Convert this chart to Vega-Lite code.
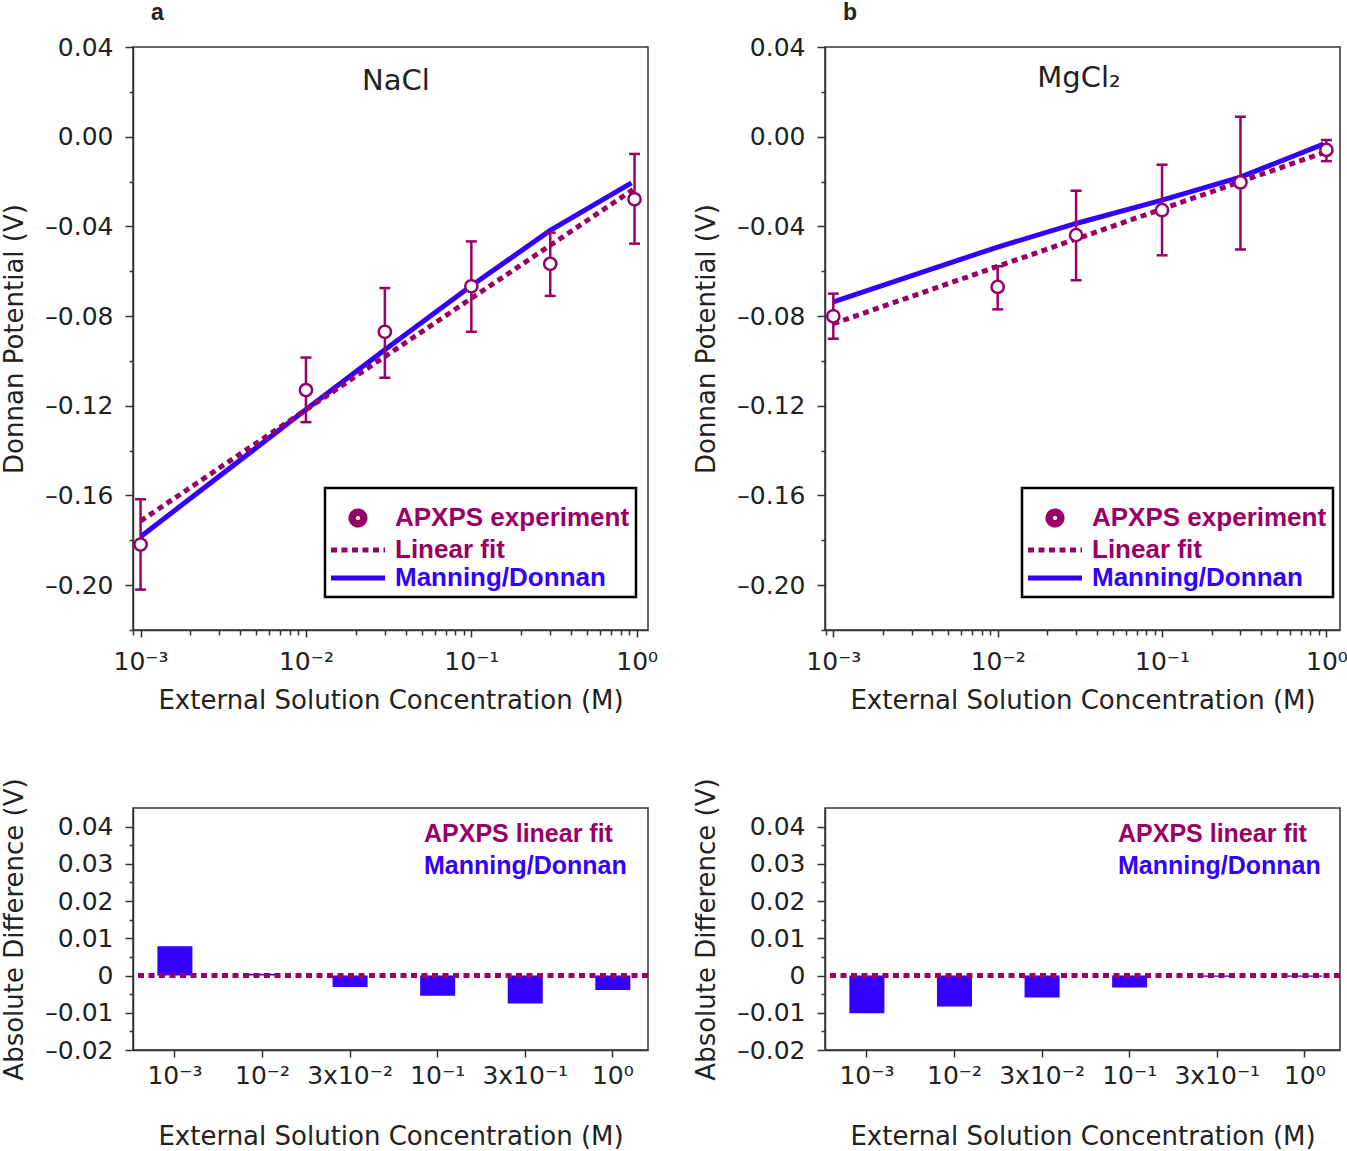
{
  "$schema": "https://vega.github.io/schema/vega-lite/v6.json",
  "background": "white",
  "padding": {"left": 1, "top": 0, "right": 0, "bottom": 0},
  "columns": 2,
  "spacing": {"row": 178, "column": 177},
  "bounds": "flush",
  "resolve": {"scale": {"color": "independent"}, "legend": {"color": "independent"}},
  "datasets": {
    "nacl_exp": [
      {"c": 0.001, "v": -0.1819, "lo": -0.2020, "hi": -0.1617, "series": "APXPS experiment"},
      {"c": 0.01, "v": -0.1130, "lo": -0.1273, "hi": -0.0985, "series": "APXPS experiment"},
      {"c": 0.03, "v": -0.0870, "lo": -0.1075, "hi": -0.0675, "series": "APXPS experiment"},
      {"c": 0.1, "v": -0.0667, "lo": -0.0870, "hi": -0.0467, "series": "APXPS experiment"},
      {"c": 0.3, "v": -0.0567, "lo": -0.0710, "hi": -0.0428, "series": "APXPS experiment"},
      {"c": 0.97, "v": -0.0279, "lo": -0.0477, "hi": -0.0077, "series": "APXPS experiment"}
    ],
    "nacl_fit": [
      {"c": 0.001, "v": -0.1714, "series": "Linear fit"},
      {"c": 0.95, "v": -0.0236, "series": "Linear fit"}
    ],
    "nacl_md": [
      {"c": 0.001, "v": -0.1784, "series": "Manning/Donnan"},
      {"c": 0.01, "v": -0.1217, "series": "Manning/Donnan"},
      {"c": 0.03, "v": -0.0950, "series": "Manning/Donnan"},
      {"c": 0.1, "v": -0.0665, "series": "Manning/Donnan"},
      {"c": 0.3, "v": -0.0418, "series": "Manning/Donnan"},
      {"c": 0.93, "v": -0.0206, "series": "Manning/Donnan"}
    ],
    "mg_exp": [
      {"c": 0.001, "v": -0.0801, "lo": -0.0901, "hi": -0.0700, "series": "APXPS experiment"},
      {"c": 0.01, "v": -0.0670, "lo": -0.0770, "hi": -0.0578, "series": "APXPS experiment"},
      {"c": 0.03, "v": -0.0439, "lo": -0.0640, "hi": -0.0241, "series": "APXPS experiment"},
      {"c": 0.1, "v": -0.0328, "lo": -0.0529, "hi": -0.0125, "series": "APXPS experiment"},
      {"c": 0.3, "v": -0.0204, "lo": -0.0503, "hi": 0.0089, "series": "APXPS experiment"},
      {"c": 1.0, "v": -0.0059, "lo": -0.0109, "hi": -0.0015, "series": "APXPS experiment"}
    ],
    "mg_fit": [
      {"c": 0.001, "v": -0.0834, "series": "Linear fit"},
      {"c": 1.0, "v": -0.0067, "series": "Linear fit"}
    ],
    "mg_md": [
      {"c": 0.001, "v": -0.0737, "series": "Manning/Donnan"},
      {"c": 0.01, "v": -0.0492, "series": "Manning/Donnan"},
      {"c": 0.03, "v": -0.0387, "series": "Manning/Donnan"},
      {"c": 0.1, "v": -0.0283, "series": "Manning/Donnan"},
      {"c": 0.3, "v": -0.0180, "series": "Manning/Donnan"},
      {"c": 0.96, "v": -0.0033, "series": "Manning/Donnan"}
    ],
    "nacl_diff": [
      {"cat": "10\u207b\u00b3", "d": 0.0079, "series": "Manning/Donnan"},
      {"cat": "10\u207b\u00b2", "d": 0.0005, "series": "Manning/Donnan"},
      {"cat": "3x10\u207b\u00b2", "d": -0.0031, "series": "Manning/Donnan"},
      {"cat": "10\u207b\u00b9", "d": -0.0054, "series": "Manning/Donnan"},
      {"cat": "3x10\u207b\u00b9", "d": -0.0075, "series": "Manning/Donnan"},
      {"cat": "10\u2070", "d": -0.0039, "series": "Manning/Donnan"}
    ],
    "mg_diff": [
      {"cat": "10\u207b\u00b3", "d": -0.0101, "series": "Manning/Donnan"},
      {"cat": "10\u207b\u00b2", "d": -0.0083, "series": "Manning/Donnan"},
      {"cat": "3x10\u207b\u00b2", "d": -0.0059, "series": "Manning/Donnan"},
      {"cat": "10\u207b\u00b9", "d": -0.0032, "series": "Manning/Donnan"},
      {"cat": "3x10\u207b\u00b9", "d": -0.0003, "series": "Manning/Donnan"},
      {"cat": "10\u2070", "d": -0.0003, "series": "Manning/Donnan"}
    ]
  },
  "concat": [
    {
      "width": 515,
      "height": 583,
      "title": {"text": "a", "anchor": "start", "frame": "group", "dx": 18, "offset": 10.5, "font": "Liberation Sans", "fontSize": 23, "fontWeight": "bold", "color": "#222222"},
      "resolve": {"axis": {"x": "independent", "y": "independent"}},
      "layer": [
        {
          "data": {"name": "nacl_md"},
          "mark": {"type": "line", "strokeWidth": 5},
          "encoding": {
            "x": {"field": "c", "type": "quantitative", "scale": {"type": "log", "domain": [0.0009, 1.17], "nice": false},
              "axis": {"orient": "bottom", "values": [0.001, 0.01, 0.1, 1], "labelExpr": "datum.value < 0.005 ? '10\u207b\u00b3' : datum.value < 0.05 ? '10\u207b\u00b2' : datum.value < 0.5 ? '10\u207b\u00b9' : '10\u2070'", "tickSize": 7, "labelPadding": 12, "labelFlush": false, "labelOverlap": false, "title": "External Solution Concentration (M)", "titlePadding": 13}},
            "y": {"field": "v", "type": "quantitative", "scale": {"domain": [-0.22, 0.04], "nice": false, "zero": false},
              "axis": {"orient": "left", "values": [0.04, 0, -0.04, -0.08, -0.12, -0.16, -0.2], "labelExpr": "replace(replace(format(datum.value, '.2f'), '\u2212', '\u2013'), '-', '\u2013')", "tickSize": 8, "labelPadding": 12, "labelFlush": false, "labelOverlap": false, "title": "Donnan Potential (V)", "titlePadding": 17}},
            "color": {"field": "series", "type": "nominal",
              "scale": {"domain": ["APXPS experiment", "Linear fit", "Manning/Donnan"], "range": ["#990066", "#990066", "#3300ff"]},
              "legend": {
                "orient": "none", "legendX": 192, "legendY": 441,
                "title": "\u200b", "titleFontSize": 10, "titlePadding": 1,
                "padding": 6, "strokeColor": "black",
                "symbolSize": 400, "symbolStrokeWidth": 5, "symbolType": "M-1.3,0H4.1",
                "labelOffset": 38, "labelFont": "Liberation Sans", "labelFontSize": 26, "labelFontWeight": "bold", "labelColor": "#990066", "labelLimit": 400, "rowPadding": 2,
                "encode": {
                  "legend": {"update": {"strokeWidth": {"value": 2.5}}},
                  "symbols": {"update": {
                    "shape": [{"test": "datum.value === 'APXPS experiment'", "value": "M0.7,0A0.7,0.7 0 1,0 2.1,0A0.7,0.7 0 1,0 0.7,0ZM0.94,0A0.46,0.46 0 1,1 1.86,0A0.46,0.46 0 1,1 0.94,0Z"}, {"value": "M-1.3,0H4.1"}],
                    "strokeDash": [{"test": "datum.value === 'Linear fit'", "value": [6, 4.5]}, {"value": [1, 0]}],
                    "fill": [{"test": "datum.value === 'APXPS experiment'", "value": "#990066"}, {"value": "transparent"}],
                    "stroke": [{"test": "datum.value === 'APXPS experiment'", "value": "transparent"}, {"test": "datum.value === 'Manning/Donnan'", "value": "#3300ff"}, {"value": "#990066"}],
                    "opacity": {"value": 1}
                  }},
                  "labels": {"update": {
                    "fill": [{"test": "datum.value === 'Manning/Donnan'", "value": "#3300ff"}, {"value": "#990066"}]
                  }}
                }
              }}
          }
        },
        {
          "data": {"name": "nacl_fit"},
          "mark": {"type": "line", "strokeWidth": 5, "strokeDash": [6, 4.5]},
          "encoding": {
            "x": {"field": "c", "type": "quantitative", "scale": {"type": "log", "domain": [0.0009, 1.17], "nice": false},
              "axis": {"orient": "bottom", "values": [0.0009, 0.002, 0.003, 0.004, 0.005, 0.006, 0.007, 0.008, 0.009, 0.02, 0.03, 0.04, 0.05, 0.06, 0.07, 0.08, 0.09, 0.2, 0.3, 0.4, 0.5, 0.6, 0.7, 0.8, 0.9], "labels": false, "tickSize": 5, "domain": false, "title": null}},
            "y": {"field": "v", "type": "quantitative",
              "axis": {"orient": "left", "values": [0.02, -0.02, -0.06, -0.1, -0.14, -0.18, -0.22], "labels": false, "tickSize": 4, "domain": false, "title": null}},
            "color": {"field": "series", "type": "nominal", "legend": null}
          }
        },
        {
          "data": {"name": "nacl_exp"},
          "mark": {"type": "rule", "color": "#990066", "strokeWidth": 2.5},
          "encoding": {
            "x": {"field": "c", "type": "quantitative", "axis": null},
            "y": {"field": "lo", "type": "quantitative", "axis": null},
            "y2": {"field": "hi"}
          }
        },
        {
          "data": {"name": "nacl_exp"},
          "mark": {"type": "tick", "orient": "horizontal", "color": "#990066", "thickness": 2.5, "size": 11, "opacity": 1},
          "encoding": {
            "x": {"field": "c", "type": "quantitative", "axis": null},
            "y": {"field": "lo", "type": "quantitative", "axis": null}
          }
        },
        {
          "data": {"name": "nacl_exp"},
          "mark": {"type": "tick", "orient": "horizontal", "color": "#990066", "thickness": 2.5, "size": 11, "opacity": 1},
          "encoding": {
            "x": {"field": "c", "type": "quantitative", "axis": null},
            "y": {"field": "hi", "type": "quantitative", "axis": null}
          }
        },
        {
          "data": {"name": "nacl_exp"},
          "mark": {"type": "point", "shape": "circle", "filled": false, "fill": "white", "strokeWidth": 2.5, "size": 150, "opacity": 1},
          "encoding": {
            "x": {"field": "c", "type": "quantitative", "axis": null},
            "y": {"field": "v", "type": "quantitative", "axis": null},
            "color": {"field": "series", "type": "nominal", "legend": null}
          }
        },
        {
          "data": {"values": [{}]},
          "mark": {"type": "text", "font": "DejaVu Sans", "fontSize": 29, "color": "#222222"},
          "encoding": {
            "x": {"datum": 0.035, "type": "quantitative", "axis": null},
            "y": {"datum": 0.025, "type": "quantitative", "axis": null},
            "text": {"value": "NaCl"}
          }
        }
      ]
    },
    {
      "width": 515,
      "height": 583,
      "title": {"text": "b", "anchor": "start", "frame": "group", "dx": 18, "offset": 10.5, "font": "Liberation Sans", "fontSize": 23, "fontWeight": "bold", "color": "#222222"},
      "resolve": {"axis": {"x": "independent", "y": "independent"}},
      "layer": [
        {
          "data": {"name": "mg_md"},
          "mark": {"type": "line", "strokeWidth": 5},
          "encoding": {
            "x": {"field": "c", "type": "quantitative", "scale": {"type": "log", "domain": [0.00089, 1.21], "nice": false},
              "axis": {"orient": "bottom", "values": [0.001, 0.01, 0.1, 1], "labelExpr": "datum.value < 0.005 ? '10\u207b\u00b3' : datum.value < 0.05 ? '10\u207b\u00b2' : datum.value < 0.5 ? '10\u207b\u00b9' : '10\u2070'", "tickSize": 7, "labelPadding": 12, "labelFlush": false, "labelOverlap": false, "title": "External Solution Concentration (M)", "titlePadding": 13}},
            "y": {"field": "v", "type": "quantitative", "scale": {"domain": [-0.22, 0.04], "nice": false, "zero": false},
              "axis": {"orient": "left", "values": [0.04, 0, -0.04, -0.08, -0.12, -0.16, -0.2], "labelExpr": "replace(replace(format(datum.value, '.2f'), '\u2212', '\u2013'), '-', '\u2013')", "tickSize": 8, "labelPadding": 12, "labelFlush": false, "labelOverlap": false, "title": "Donnan Potential (V)", "titlePadding": 17}},
            "color": {"field": "series", "type": "nominal",
              "scale": {"domain": ["APXPS experiment", "Linear fit", "Manning/Donnan"], "range": ["#990066", "#990066", "#3300ff"]},
              "legend": {
                "orient": "none", "legendX": 197, "legendY": 441,
                "title": "\u200b", "titleFontSize": 10, "titlePadding": 1,
                "padding": 6, "strokeColor": "black",
                "symbolSize": 400, "symbolStrokeWidth": 5, "symbolType": "M-1.3,0H4.1",
                "labelOffset": 38, "labelFont": "Liberation Sans", "labelFontSize": 26, "labelFontWeight": "bold", "labelColor": "#990066", "labelLimit": 400, "rowPadding": 2,
                "encode": {
                  "legend": {"update": {"strokeWidth": {"value": 2.5}}},
                  "symbols": {"update": {
                    "shape": [{"test": "datum.value === 'APXPS experiment'", "value": "M0.7,0A0.7,0.7 0 1,0 2.1,0A0.7,0.7 0 1,0 0.7,0ZM0.94,0A0.46,0.46 0 1,1 1.86,0A0.46,0.46 0 1,1 0.94,0Z"}, {"value": "M-1.3,0H4.1"}],
                    "strokeDash": [{"test": "datum.value === 'Linear fit'", "value": [6, 4.5]}, {"value": [1, 0]}],
                    "fill": [{"test": "datum.value === 'APXPS experiment'", "value": "#990066"}, {"value": "transparent"}],
                    "stroke": [{"test": "datum.value === 'APXPS experiment'", "value": "transparent"}, {"test": "datum.value === 'Manning/Donnan'", "value": "#3300ff"}, {"value": "#990066"}],
                    "opacity": {"value": 1}
                  }},
                  "labels": {"update": {
                    "fill": [{"test": "datum.value === 'Manning/Donnan'", "value": "#3300ff"}, {"value": "#990066"}]
                  }}
                }
              }}
          }
        },
        {
          "data": {"name": "mg_fit"},
          "mark": {"type": "line", "strokeWidth": 5, "strokeDash": [6, 4.5]},
          "encoding": {
            "x": {"field": "c", "type": "quantitative", "scale": {"type": "log", "domain": [0.00089, 1.21], "nice": false},
              "axis": {"orient": "bottom", "values": [0.0009, 0.002, 0.003, 0.004, 0.005, 0.006, 0.007, 0.008, 0.009, 0.02, 0.03, 0.04, 0.05, 0.06, 0.07, 0.08, 0.09, 0.2, 0.3, 0.4, 0.5, 0.6, 0.7, 0.8, 0.9], "labels": false, "tickSize": 5, "domain": false, "title": null}},
            "y": {"field": "v", "type": "quantitative",
              "axis": {"orient": "left", "values": [0.02, -0.02, -0.06, -0.1, -0.14, -0.18, -0.22], "labels": false, "tickSize": 4, "domain": false, "title": null}},
            "color": {"field": "series", "type": "nominal", "legend": null}
          }
        },
        {
          "data": {"name": "mg_exp"},
          "mark": {"type": "rule", "color": "#990066", "strokeWidth": 2.5},
          "encoding": {
            "x": {"field": "c", "type": "quantitative", "axis": null},
            "y": {"field": "lo", "type": "quantitative", "axis": null},
            "y2": {"field": "hi"}
          }
        },
        {
          "data": {"name": "mg_exp"},
          "mark": {"type": "tick", "orient": "horizontal", "color": "#990066", "thickness": 2.5, "size": 11, "opacity": 1},
          "encoding": {
            "x": {"field": "c", "type": "quantitative", "axis": null},
            "y": {"field": "lo", "type": "quantitative", "axis": null}
          }
        },
        {
          "data": {"name": "mg_exp"},
          "mark": {"type": "tick", "orient": "horizontal", "color": "#990066", "thickness": 2.5, "size": 11, "opacity": 1},
          "encoding": {
            "x": {"field": "c", "type": "quantitative", "axis": null},
            "y": {"field": "hi", "type": "quantitative", "axis": null}
          }
        },
        {
          "data": {"name": "mg_exp"},
          "mark": {"type": "point", "shape": "circle", "filled": false, "fill": "white", "strokeWidth": 2.5, "size": 150, "opacity": 1},
          "encoding": {
            "x": {"field": "c", "type": "quantitative", "axis": null},
            "y": {"field": "v", "type": "quantitative", "axis": null},
            "color": {"field": "series", "type": "nominal", "legend": null}
          }
        },
        {
          "data": {"values": [{}]},
          "mark": {"type": "text", "font": "DejaVu Sans", "fontSize": 29, "color": "#222222"},
          "encoding": {
            "x": {"datum": 0.0312, "type": "quantitative", "axis": null},
            "y": {"datum": 0.026, "type": "quantitative", "axis": null},
            "text": {"value": "MgCl\u2082"}
          }
        }
      ]
    },
    {
      "width": 515,
      "height": 242,
      "resolve": {"axis": {"y": "independent"}},
      "layer": [
        {
          "data": {"name": "nacl_diff"},
          "mark": {"type": "bar"},
          "encoding": {
            "x": {"field": "cat", "type": "nominal", "sort": null, "scale": {"paddingInner": 0.6, "paddingOuter": 0.24, "align": 0.58},
              "axis": {"labelAngle": 0, "tickSize": 7, "labelPadding": 6, "title": "External Solution Concentration (M)", "titlePadding": 35}},
            "y": {"field": "d", "type": "quantitative", "scale": {"domain": [-0.02, 0.045], "nice": false},
              "axis": {"orient": "left", "values": [0.04, 0.03, 0.02, 0.01, 0, -0.01, -0.02], "labelExpr": "datum.value == 0 ? '0' : replace(replace(format(datum.value, '.2f'), '\u2212', '\u2013'), '-', '\u2013')", "tickSize": 8, "labelPadding": 12, "labelFlush": false, "labelOverlap": false, "title": "Absolute Difference (V)", "titlePadding": 17}},
            "color": {"field": "series", "type": "nominal",
              "scale": {"domain": ["APXPS linear fit", "Manning/Donnan"], "range": ["#990066", "#3300ff"]},
              "legend": {
                "orient": "none", "legendX": 266, "legendY": 13, "title": null,
                "symbolSize": 0, "symbolOpacity": 0, "symbolStrokeWidth": 0, "labelOffset": 0,
                "labelFont": "Liberation Sans", "labelFontSize": 25, "labelFontWeight": "bold", "labelColor": "#990066", "labelLimit": 400, "rowPadding": 6, "padding": 0,
                "encode": {"labels": {"update": {"fill": [{"test": "datum.value === 'Manning/Donnan'", "value": "#3300ff"}, {"value": "#990066"}]}}}
              }}
          }
        },
        {
          "data": {"values": [{}]},
          "mark": {"type": "rule", "strokeWidth": 5, "strokeDash": [6, 4.5], "color": "#990066"},
          "encoding": {
            "y": {"datum": 0, "type": "quantitative",
              "axis": {"orient": "left", "values": [0.035, 0.025, 0.015, 0.005, -0.005, -0.015], "labels": false, "tickSize": 4, "domain": false, "title": null}}
          }
        }
      ]
    },
    {
      "width": 515,
      "height": 242,
      "resolve": {"axis": {"y": "independent"}},
      "layer": [
        {
          "data": {"name": "mg_diff"},
          "mark": {"type": "bar"},
          "encoding": {
            "x": {"field": "cat", "type": "nominal", "sort": null, "scale": {"paddingInner": 0.6, "paddingOuter": 0.24, "align": 0.58},
              "axis": {"labelAngle": 0, "tickSize": 7, "labelPadding": 6, "title": "External Solution Concentration (M)", "titlePadding": 35}},
            "y": {"field": "d", "type": "quantitative", "scale": {"domain": [-0.02, 0.045], "nice": false},
              "axis": {"orient": "left", "values": [0.04, 0.03, 0.02, 0.01, 0, -0.01, -0.02], "labelExpr": "datum.value == 0 ? '0' : replace(replace(format(datum.value, '.2f'), '\u2212', '\u2013'), '-', '\u2013')", "tickSize": 8, "labelPadding": 12, "labelFlush": false, "labelOverlap": false, "title": "Absolute Difference (V)", "titlePadding": 17}},
            "color": {"field": "series", "type": "nominal",
              "scale": {"domain": ["APXPS linear fit", "Manning/Donnan"], "range": ["#990066", "#3300ff"]},
              "legend": {
                "orient": "none", "legendX": 268, "legendY": 13, "title": null,
                "symbolSize": 0, "symbolOpacity": 0, "symbolStrokeWidth": 0, "labelOffset": 0,
                "labelFont": "Liberation Sans", "labelFontSize": 25, "labelFontWeight": "bold", "labelColor": "#990066", "labelLimit": 400, "rowPadding": 6, "padding": 0,
                "encode": {"labels": {"update": {"fill": [{"test": "datum.value === 'Manning/Donnan'", "value": "#3300ff"}, {"value": "#990066"}]}}}
              }}
          }
        },
        {
          "data": {"values": [{}]},
          "mark": {"type": "rule", "strokeWidth": 5, "strokeDash": [6, 4.5], "color": "#990066"},
          "encoding": {
            "y": {"datum": 0, "type": "quantitative",
              "axis": {"orient": "left", "values": [0.035, 0.025, 0.015, 0.005, -0.005, -0.015], "labels": false, "tickSize": 4, "domain": false, "title": null}}
          }
        }
      ]
    }
  ],
  "config": {
    "font": "DejaVu Sans",
    "view": {"stroke": "#333333", "strokeWidth": 1.5},
    "axis": {"grid": false, "domainColor": "#333333", "domainWidth": 1.5, "tickColor": "#333333", "tickWidth": 1.5,
      "labelFont": "DejaVu Sans", "labelFontSize": 25, "labelColor": "#222222",
      "titleFont": "DejaVu Sans", "titleFontSize": 26, "titleFontWeight": "normal", "titleColor": "#222222"},
    "legend": {"labelLimit": 400}
  }
}
